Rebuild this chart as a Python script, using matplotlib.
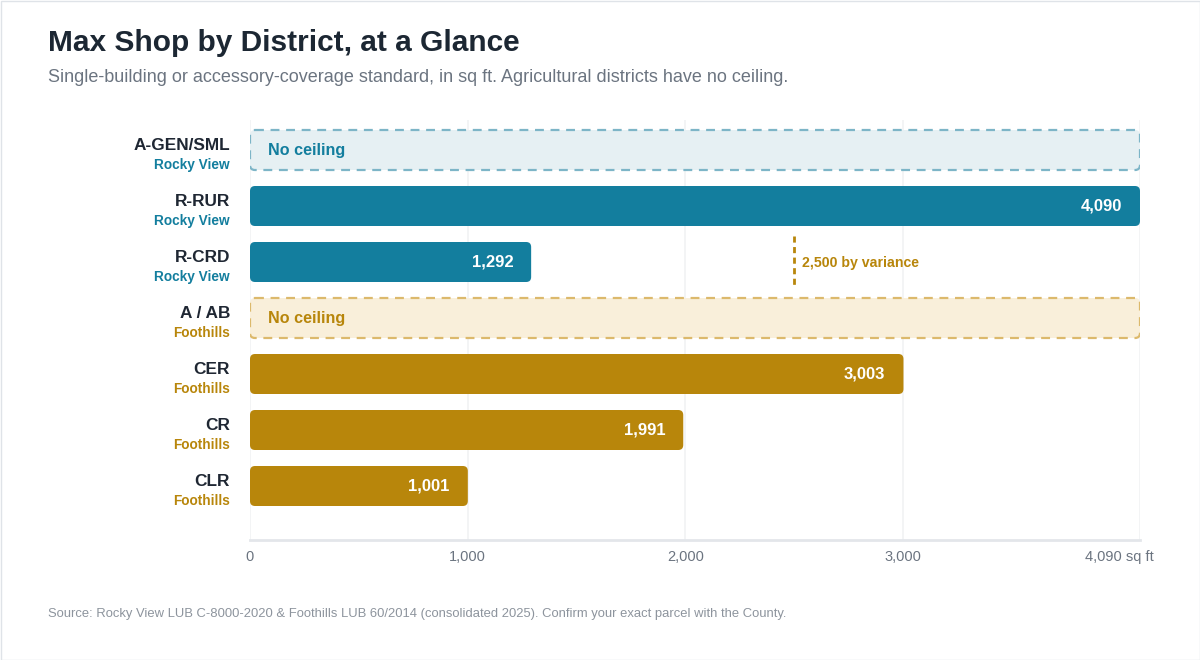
import matplotlib.pyplot as plt
from matplotlib.patches import FancyBboxPatch, Rectangle
from matplotlib.transforms import offset_copy

plt.rcParams['font.family'] = ['Liberation Sans', 'DejaVu Sans']

# data
districts = ["A-GEN/SML", "R-RUR", "R-CRD", "A / AB", "CER", "CR", "CLR"]
counties = ["Rocky View", "Rocky View", "Rocky View",
            "Foothills", "Foothills", "Foothills", "Foothills"]
max_shop = [None, 4090, 1292, None, 3003, 1991, 1001]   # None = no ceiling
variance_district = "R-CRD"
variance_value = 2500
x_ticks = [0, 1000, 2000, 3000, 4090]
x_tick_labels = ["0", "1,000", "2,000", "3,000", "4,090 sq ft"]
x_max = 4090

county_colors = {"Rocky View": "#137e9e", "Foothills": "#b8860b"}
light_fill = {"Rocky View": "#e6f0f3", "Foothills": "#f9efda"}
light_edge = {"Rocky View": "#7db5c7", "Foothills": "#dcb96c"}

W, H = 1200, 660
fig = plt.figure(figsize=(12, 6.6), dpi=100)
fig.patch.set_facecolor("white")

# plot area in pixels: x 250..1140, y 120..540
ax = fig.add_axes([250 / W, 1 - 540 / H, 890 / W, 420 / H])
row_px = 56
ax.set_xlim(0, x_max)
ax.set_ylim(6 + 54 / row_px, -30 / row_px)

xpp = x_max / 890.0      # data x per pixel
ypp = 1.0 / row_px       # data y per pixel
bar_h = 40 * ypp
radius = 5 * xpp

for v in x_ticks:
    ax.axvline(v, color="#f1f2f4", lw=1.2, zorder=0)

for i, (name, county, val) in enumerate(zip(districts, counties, max_shop)):
    col = county_colors[county]
    y0 = i - bar_h / 2
    if val is None:
        patch = FancyBboxPatch((0, y0), x_max, bar_h,
                               boxstyle=f"round,pad=0,rounding_size={radius}",
                               mutation_aspect=ypp / xpp,
                               facecolor=light_fill[county], edgecolor=light_edge[county],
                               lw=1.6, ls=(0, (4, 3)), zorder=2)
        ax.add_patch(patch)
        ax.text(18 * xpp, i, "No ceiling", ha="left", va="center",
                fontsize=11.6, fontweight="bold", color=col, zorder=3)
    else:
        patch = FancyBboxPatch((0, y0), val, bar_h,
                               boxstyle=f"round,pad=0,rounding_size={radius}",
                               mutation_aspect=ypp / xpp,
                               facecolor=col, edgecolor="none", zorder=2)
        ax.add_patch(patch)
        ax.text(val - 18 * xpp, i, f"{val:,}", ha="right", va="center",
                fontsize=12, fontweight="bold", color="white", zorder=3)

    # row labels
    ax.text(-20 * xpp, i - 5 * ypp, name, ha="right", va="center",
            fontsize=12.4, fontweight="bold", color="#1f2733", clip_on=False)
    ax.text(-20 * xpp, i + 15 * ypp, county, ha="right", va="center",
            fontsize=9.8, fontweight="bold", color=col, clip_on=False)

# variance marker
vi = districts.index(variance_district)
ax.plot([variance_value, variance_value], [vi - 26 * ypp, vi + 24 * ypp],
        color="#b8860b", lw=2, ls=(0, (2.2, 1.6)), zorder=3)
ax.text(variance_value + 8 * xpp, vi + 1 * ypp, f"{variance_value:,} by variance",
        ha="left", va="center", fontsize=10.2, fontweight="bold", color="#b8860b")

# axis styling
for s in ["top", "right", "left"]:
    ax.spines[s].set_visible(False)
ax.spines["bottom"].set_color("#e3e6ea")
ax.spines["bottom"].set_linewidth(2)
ax.set_yticks([])
ax.set_xticks(x_ticks[:-1])
ax.set_xticklabels(x_tick_labels[:-1])
ax.tick_params(axis="x", length=0, pad=7.5, labelsize=10.5, labelcolor="#6b7480")
last = offset_copy(ax.get_xaxis_transform(), fig=fig, x=-14.5, y=-7.5, units="points")
ax.text(x_ticks[-1], 0, x_tick_labels[-1], transform=last, ha="center", va="top",
        fontsize=10.5, color="#6b7480")

# titles
fig.text(48 / W, 1 - 43 / H, "Max Shop by District, at a Glance", ha="left", va="center",
         fontsize=21.5, fontweight="bold", color="#1c2733")
fig.text(48 / W, 1 - 77 / H,
         "Single-building or accessory-coverage standard, in sq ft. Agricultural districts have no ceiling.",
         ha="left", va="center", fontsize=13, color="#6b7480")
fig.text(48 / W, 1 - 614 / H,
         "Source: Rocky View LUB C-8000-2020 & Foothills LUB 60/2014 (consolidated 2025). Confirm your exact parcel with the County.",
         ha="left", va="center", fontsize=9.4, color="#8d949d")

# card border
fig.patches.append(Rectangle((0.5 / W, 0.5 / H), 1 - 1 / W, 1 - 1 / H, transform=fig.transFigure,
                             fill=False, edgecolor="#dfe3e8", lw=1))

fig.savefig("out.png", dpi=100)
